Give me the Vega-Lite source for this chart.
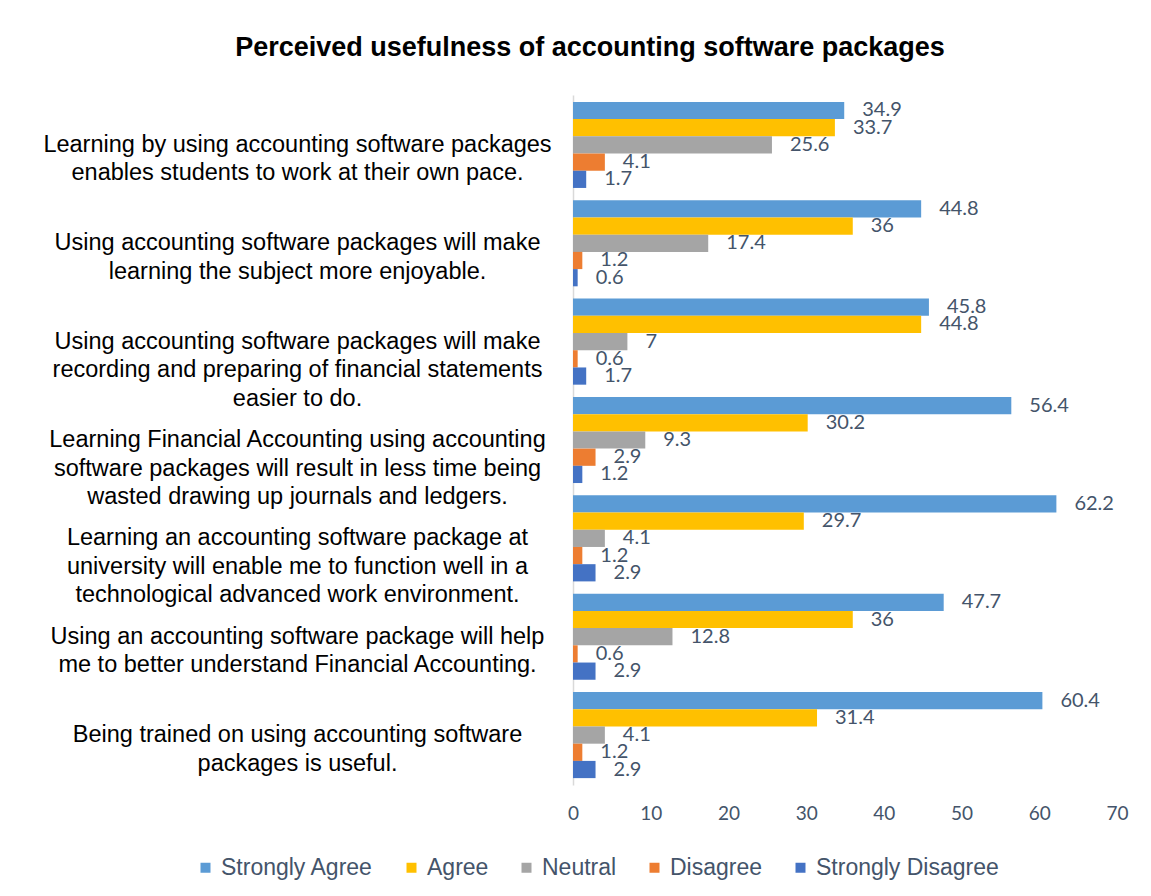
{
  "$schema": "https://vega.github.io/schema/vega-lite/v6.json",
  "width": 544,
  "height": 690,
  "autosize": "none",
  "padding": {"left": 573, "top": 95, "right": 34, "bottom": 111},
  "background": "white",
  "config": {"view": {"stroke": null}},
  "title": {
    "text": "Perceived usefulness of accounting software packages",
    "font": "Liberation Sans",
    "fontSize": 27,
    "fontWeight": "bold",
    "color": "#000000",
    "anchor": "middle",
    "frame": "group",
    "dx": -255,
    "offset": 33
  },
  "data": {
    "values": [
      {"statement": "Learning by using  accounting software packages\nenables students to work at their own pace.", "response": "Strongly Agree", "pct": 34.9},
      {"statement": "Learning by using  accounting software packages\nenables students to work at their own pace.", "response": "Agree", "pct": 33.7},
      {"statement": "Learning by using  accounting software packages\nenables students to work at their own pace.", "response": "Neutral", "pct": 25.6},
      {"statement": "Learning by using  accounting software packages\nenables students to work at their own pace.", "response": "Disagree", "pct": 4.1},
      {"statement": "Learning by using  accounting software packages\nenables students to work at their own pace.", "response": "Strongly Disagree", "pct": 1.7},
      {"statement": "Using accounting software packages will make\nlearning the subject more enjoyable.", "response": "Strongly Agree", "pct": 44.8},
      {"statement": "Using accounting software packages will make\nlearning the subject more enjoyable.", "response": "Agree", "pct": 36},
      {"statement": "Using accounting software packages will make\nlearning the subject more enjoyable.", "response": "Neutral", "pct": 17.4},
      {"statement": "Using accounting software packages will make\nlearning the subject more enjoyable.", "response": "Disagree", "pct": 1.2},
      {"statement": "Using accounting software packages will make\nlearning the subject more enjoyable.", "response": "Strongly Disagree", "pct": 0.6},
      {"statement": "Using accounting software packages will make\nrecording and preparing of financial statements\neasier to do.", "response": "Strongly Agree", "pct": 45.8},
      {"statement": "Using accounting software packages will make\nrecording and preparing of financial statements\neasier to do.", "response": "Agree", "pct": 44.8},
      {"statement": "Using accounting software packages will make\nrecording and preparing of financial statements\neasier to do.", "response": "Neutral", "pct": 7},
      {"statement": "Using accounting software packages will make\nrecording and preparing of financial statements\neasier to do.", "response": "Disagree", "pct": 0.6},
      {"statement": "Using accounting software packages will make\nrecording and preparing of financial statements\neasier to do.", "response": "Strongly Disagree", "pct": 1.7},
      {"statement": "Learning Financial Accounting using accounting\nsoftware packages will result in less time being\nwasted drawing up journals and ledgers.", "response": "Strongly Agree", "pct": 56.4},
      {"statement": "Learning Financial Accounting using accounting\nsoftware packages will result in less time being\nwasted drawing up journals and ledgers.", "response": "Agree", "pct": 30.2},
      {"statement": "Learning Financial Accounting using accounting\nsoftware packages will result in less time being\nwasted drawing up journals and ledgers.", "response": "Neutral", "pct": 9.3},
      {"statement": "Learning Financial Accounting using accounting\nsoftware packages will result in less time being\nwasted drawing up journals and ledgers.", "response": "Disagree", "pct": 2.9},
      {"statement": "Learning Financial Accounting using accounting\nsoftware packages will result in less time being\nwasted drawing up journals and ledgers.", "response": "Strongly Disagree", "pct": 1.2},
      {"statement": "Learning  an accounting software package at\nuniversity will enable me to function well in a\ntechnological advanced work environment.", "response": "Strongly Agree", "pct": 62.2},
      {"statement": "Learning  an accounting software package at\nuniversity will enable me to function well in a\ntechnological advanced work environment.", "response": "Agree", "pct": 29.7},
      {"statement": "Learning  an accounting software package at\nuniversity will enable me to function well in a\ntechnological advanced work environment.", "response": "Neutral", "pct": 4.1},
      {"statement": "Learning  an accounting software package at\nuniversity will enable me to function well in a\ntechnological advanced work environment.", "response": "Disagree", "pct": 1.2},
      {"statement": "Learning  an accounting software package at\nuniversity will enable me to function well in a\ntechnological advanced work environment.", "response": "Strongly Disagree", "pct": 2.9},
      {"statement": "Using an accounting software package will help\nme to better understand Financial Accounting.", "response": "Strongly Agree", "pct": 47.7},
      {"statement": "Using an accounting software package will help\nme to better understand Financial Accounting.", "response": "Agree", "pct": 36},
      {"statement": "Using an accounting software package will help\nme to better understand Financial Accounting.", "response": "Neutral", "pct": 12.8},
      {"statement": "Using an accounting software package will help\nme to better understand Financial Accounting.", "response": "Disagree", "pct": 0.6},
      {"statement": "Using an accounting software package will help\nme to better understand Financial Accounting.", "response": "Strongly Disagree", "pct": 2.9},
      {"statement": "Being trained on using accounting software\npackages is useful.", "response": "Strongly Agree", "pct": 60.4},
      {"statement": "Being trained on using accounting software\npackages is useful.", "response": "Agree", "pct": 31.4},
      {"statement": "Being trained on using accounting software\npackages is useful.", "response": "Neutral", "pct": 4.1},
      {"statement": "Being trained on using accounting software\npackages is useful.", "response": "Disagree", "pct": 1.2},
      {"statement": "Being trained on using accounting software\npackages is useful.", "response": "Strongly Disagree", "pct": 2.9}
    ]
  },
  "encoding": {
    "y": {
      "field": "statement",
      "type": "nominal",
      "sort": null,
      "title": null,
      "scale": {"paddingInner": 0.125, "paddingOuter": 0.07},
      "axis": {
        "labelExpr": "split(datum.label, '\\n')",
        "labelAlign": "center",
        "labelBaseline": "middle",
        "labelPadding": 276,
        "labelFont": "Liberation Sans",
        "labelFontSize": 23.5,
        "labelLineHeight": 28.5,
        "labelColor": "#000000",
        "labelLimit": 0,
        "ticks": false,
        "tickSize": 0,
        "domainColor": "#D9D9D9",
        "domainWidth": 1.5,
        "grid": false
      }
    },
    "yOffset": {
      "field": "response",
      "type": "nominal",
      "sort": null,
      "scale": {"domain": ["Strongly Agree", "Agree", "Neutral", "Disagree", "Strongly Disagree"], "paddingInner": 0, "paddingOuter": 0}
    },
    "x": {
      "field": "pct",
      "type": "quantitative",
      "title": null,
      "scale": {"domain": [0, 70], "nice": false},
      "axis": {
        "values": [0, 10, 20, 30, 40, 50, 60, 70],
        "domain": false,
        "ticks": false,
        "tickSize": 0,
        "grid": false,
        "labelPadding": 19,
        "labelFont": "Lato",
        "labelFontSize": 19,
        "labelColor": "#44546A",
        "labelFlush": false
      }
    }
  },
  "layer": [
    {
      "mark": {"type": "bar"},
      "encoding": {
        "color": {
          "field": "response",
          "type": "nominal",
          "title": null,
          "scale": {
            "domain": ["Strongly Agree", "Agree", "Neutral", "Disagree", "Strongly Disagree"],
            "range": ["#5B9BD5", "#FFC000", "#A5A5A5", "#ED7D31", "#4472C4"]
          },
          "legend": {
            "orient": "none",
            "direction": "horizontal",
            "legendX": -379,
            "legendY": 761,
            "symbolType": "square",
            "symbolSize": 100,
            "symbolStrokeWidth": 0,
            "labelFont": "Liberation Sans",
            "labelFontSize": 23,
            "labelColor": "#44546A",
            "labelOffset": 4,
            "columnPadding": 26,
            "labelLimit": 0,
            "padding": 0
          }
        }
      }
    },
    {
      "mark": {"type": "text", "align": "left", "baseline": "middle", "dx": 18, "font": "Lato", "fontSize": 20, "color": "#44546A"},
      "encoding": {
        "text": {"field": "pct", "type": "quantitative"}
      }
    }
  ]
}
